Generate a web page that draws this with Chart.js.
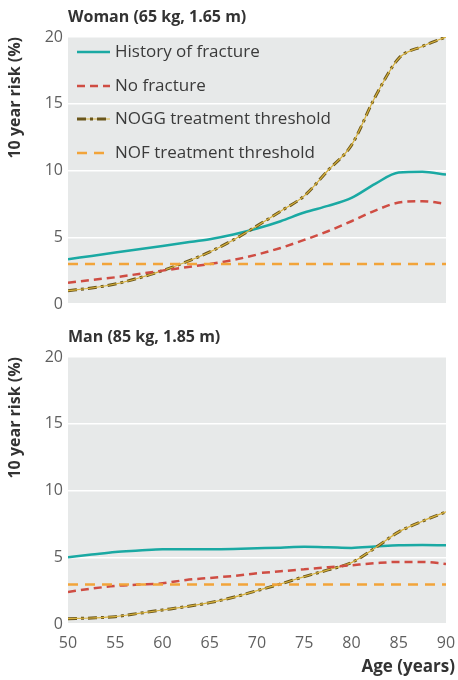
<!DOCTYPE html>
<html>
<head>
<meta charset="utf-8">
<script src="https://cdn.jsdelivr.net/npm/chart.js@4.4.1/dist/chart.umd.min.js"></script>
<style>
  html, body { margin: 0; padding: 0; background: #ffffff; }
  #wrap { position: relative; width: 458px; height: 680px; }
  #womanBox { position: absolute; left: 0; top: 0; width: 458px; height: 320px; }
  #manBox { position: absolute; left: 0; top: 320px; width: 458px; height: 360px; }
</style>
</head>
<body>
<div id="wrap">
  <div id="womanBox"><canvas id="woman" width="458" height="320"></canvas></div>
  <div id="manBox"><canvas id="man" width="458" height="360"></canvas></div>
</div>
<script>
// Age points (years)
const ages = [50, 52.5, 55, 57.5, 60, 62.5, 65, 67.5, 70, 72.5, 75, 77.5, 80, 82.5, 85, 87.5, 90];
const xTicks = [50, 55, 60, 65, 70, 75, 80, 85, 90];
const yTicks = [0, 5, 10, 15, 20];
const seriesNames = ['History of fracture', 'No fracture', 'NOGG treatment threshold', 'NOF treatment threshold'];

// Woman (65 kg, 1.65 m): 10 year risk (%)
const womanHistory = [3.35, 3.6, 3.85, 4.1, 4.35, 4.6, 4.85, 5.2, 5.65, 6.2, 6.85, 7.35, 7.95, 9.0, 9.85, 9.9, 9.7];
const womanNoFracture = [1.6, 1.8, 2.0, 2.25, 2.5, 2.75, 3.0, 3.3, 3.7, 4.2, 4.8, 5.45, 6.2, 7.0, 7.6, 7.7, 7.5];
const womanNogg = [1.0, 1.2, 1.5, 1.95, 2.5, 3.15, 3.9, 4.8, 5.85, 6.95, 8.1, 10.0, 11.9, 15.5, 18.4, 19.3, 20.0];
const womanNof = [3.0, 3.0, 3.0, 3.0, 3.0, 3.0, 3.0, 3.0, 3.0, 3.0, 3.0, 3.0, 3.0, 3.0, 3.0, 3.0, 3.0];

// Man (85 kg, 1.85 m): 10 year risk (%)
const manHistory = [5.0, 5.2, 5.4, 5.5, 5.6, 5.6, 5.6, 5.62, 5.67, 5.72, 5.78, 5.75, 5.7, 5.8, 5.9, 5.92, 5.9];
const manNoFracture = [2.4, 2.65, 2.85, 2.95, 3.05, 3.3, 3.45, 3.6, 3.8, 3.95, 4.1, 4.25, 4.4, 4.55, 4.65, 4.65, 4.5];
const manNogg = [0.4, 0.45, 0.55, 0.8, 1.05, 1.3, 1.6, 2.0, 2.5, 3.0, 3.55, 4.05, 4.6, 5.7, 6.9, 7.7, 8.4];
const manNof = [2.95, 2.95, 2.95, 2.95, 2.95, 2.95, 2.95, 2.95, 2.95, 2.95, 2.95, 2.95, 2.95, 2.95, 2.95, 2.95, 2.95];

const FONT = '"Open Sans", Lato, sans-serif';
const TEAL = '#1aa9a3';
const RED = '#cf4d43';
const OLIVE = '#6a561b';
const GOLD = '#d8b23e';
const ORANGE = '#f2a43a';

function pts(values) {
  return ages.map((a, i) => ({ x: a, y: values[i] }));
}

function makeDatasets(hist, nofx, nogg, nof) {
  return [
    { label: seriesNames[3], data: pts(nof), borderColor: ORANGE, borderWidth: 2.5, borderDash: [10, 7] },
    { label: seriesNames[1], data: pts(nofx), borderColor: RED, borderWidth: 2.5, borderDash: [8, 5] },
    { label: '', underlay: true, data: pts(nogg), borderColor: GOLD, borderWidth: 1.2 },
    { label: seriesNames[2], data: pts(nogg), borderColor: OLIVE, borderWidth: 3, borderDash: [9, 4, 3, 4] },
    { label: seriesNames[0], data: pts(hist), borderColor: TEAL, borderWidth: 2.5 }
  ].map(d => Object.assign({ pointRadius: 0, fill: false, cubicInterpolationMode: 'monotone' }, d));
}

// Grey plotting panel behind the lines
const panelFill = {
  id: 'panelFill',
  beforeDraw(chart) {
    const a = chart.chartArea, ctx = chart.ctx;
    ctx.save();
    ctx.fillStyle = '#e7e9e9';
    ctx.fillRect(a.left, a.top, a.right - a.left, a.bottom - a.top);
    ctx.restore();
  }
};

// Panel heading and optional age caption
const panelText = {
  id: 'panelText',
  afterDraw(chart, args, opts) {
    const ctx = chart.ctx, a = chart.chartArea;
    ctx.save();
    ctx.fillStyle = '#333333';
    ctx.font = 'bold 16px ' + FONT;
    ctx.textAlign = 'left';
    ctx.textBaseline = 'alphabetic';
    ctx.fillText(opts.heading, a.left, 22);
    if (opts.xCaption) {
      ctx.font = 'bold 17px ' + FONT;
      ctx.textAlign = 'right';
      ctx.fillText(opts.xCaption, 455, 352);
    }
    ctx.restore();
  }
};

// Legend drawn inside the upper panel
const innerLegend = {
  id: 'innerLegend',
  afterDatasetsDraw(chart, args, opts) {
    if (!opts.show) return;
    const ctx = chart.ctx;
    const rows = [52, 86, 119, 153];
    ctx.save();
    ctx.font = '17px ' + FONT;
    ctx.textBaseline = 'middle';
    ctx.fillStyle = '#3a3a3a';
    seriesNames.forEach((name, i) => {
      const ds = chart.data.datasets.find(d => d.label === name);
      const y = rows[i];
      if (name === seriesNames[2]) {
        const under = chart.data.datasets.find(d => d.underlay);
        ctx.setLineDash([]);
        ctx.strokeStyle = under.borderColor;
        ctx.lineWidth = under.borderWidth;
        ctx.beginPath(); ctx.moveTo(77, y); ctx.lineTo(110, y); ctx.stroke();
      }
      ctx.setLineDash(ds.borderDash || []);
      ctx.strokeStyle = ds.borderColor;
      ctx.lineWidth = ds.borderWidth;
      ctx.beginPath(); ctx.moveTo(77, y); ctx.lineTo(110, y); ctx.stroke();
      ctx.setLineDash([]);
      ctx.fillText(name, 115, y);
    });
    ctx.restore();
  }
};

function makeChart(id, datasets, showX, heading, xCaption, showLegend, xHeight) {
  return new Chart(document.getElementById(id), {
    type: 'line',
    data: { datasets },
    plugins: [panelFill, panelText, innerLegend],
    options: {
      responsive: false,
      animation: false,
      layout: { padding: { top: 37, right: 12, bottom: 0, left: 0 } },
      plugins: {
        legend: { display: false },
        tooltip: { enabled: false },
        panelText: { heading, xCaption },
        innerLegend: { show: showLegend }
      },
      scales: {
        x: {
          type: 'linear', min: 50, max: 90,
          afterBuildTicks(scale) { scale.ticks = xTicks.map(v => ({ value: v })); },
          afterFit(scale) { scale.height = xHeight; },
          grid: { display: false },
          border: { display: false },
          ticks: { display: showX, padding: 2, color: '#5f5f5f', font: { family: FONT, size: 16 } }
        },
        y: {
          min: 0, max: 20,
          afterBuildTicks(scale) { scale.ticks = yTicks.map(v => ({ value: v })); },
          afterFit(scale) { scale.width = 68; },
          grid: { color: '#ffffff', lineWidth: 1.5, drawTicks: false },
          border: { display: false },
          ticks: { padding: 5, color: '#5f5f5f', font: { family: FONT, size: 16 } },
          title: {
            display: true, text: '10 year risk (%)', color: '#333333', align: 'end',
            font: { family: FONT, size: 16, weight: 'bold' }, padding: { top: 6, bottom: 0 }
          }
        }
      }
    }
  });
}

makeChart('woman', makeDatasets(womanHistory, womanNoFracture, womanNogg, womanNof), false,
  'Woman (65 kg, 1.65 m)', null, true, 16);
makeChart('man', makeDatasets(manHistory, manNoFracture, manNogg, manNof), true,
  'Man (85 kg, 1.85 m)', 'Age (years)', false, 56);
</script>
</body>
</html>
